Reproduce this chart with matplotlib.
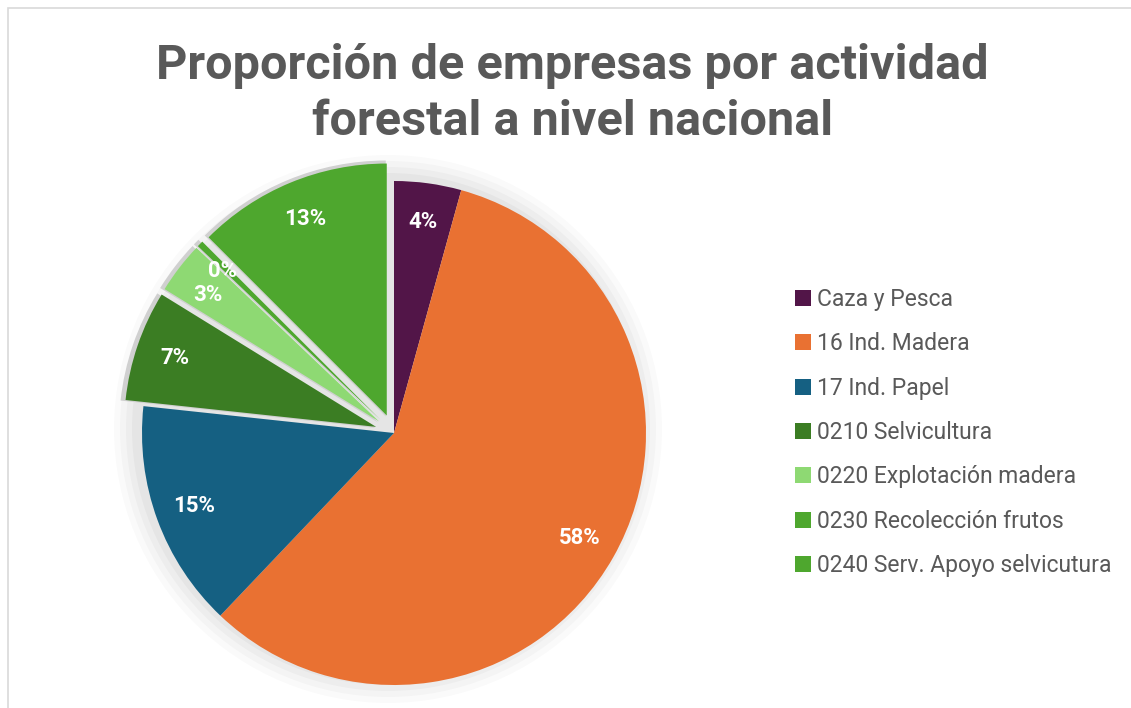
import numpy as np
import matplotlib.pyplot as plt
from matplotlib.patches import Rectangle, Circle

categorias = ["Caza y Pesca", "16 Ind. Madera", "17 Ind. Papel", "0210 Selvicultura",
              "0220 Explotación madera", "0230 Recolección frutos", "0240 Serv. Apoyo selvicutura"]
porcentajes = [4.3, 57.8, 14.6, 7.1, 3.3, 0.4, 12.5]
etiquetas = ["4%", "58%", "15%", "7%", "3%", "0%", "13%"]
colores = ["#521548", "#E97132", "#156082", "#3B7D23", "#8ED973", "#4EA72E", "#4EA72E"]
separacion = [0, 0, 0, 0.075, 0.075, 0.075, 0.075]

plt.rcParams["font.family"] = ["Roboto", "DejaVu Sans"]

fig = plt.figure(figsize=(11.31, 7.08), dpi=100)
ax = fig.add_axes([0, 0, 1, 1])
ax.axis("off")

# marco del grafico
fig.patches.append(Rectangle((8 / 1131, -0.01), 1.1, (700 / 708) + 0.01, transform=fig.transFigure,
                             fill=False, edgecolor="#d9d9d9", linewidth=1.2))

centro = (394, 275)
radio = 252
expl = [e * radio for e in separacion]

# sombra suave
for i, a in enumerate([0.018, 0.022, 0.026, 0.03]):
    ax.add_patch(Circle((centro[0] - 6, centro[1] + 4), radio + 22 - i * 6,
                        color="#000000", alpha=a, linewidth=0, zorder=0))
sombra = ["#d0d0d0" if e > 0 else "none" for e in separacion]
ax.pie(porcentajes, colors=sombra, explode=expl,
       startangle=90, counterclock=False, center=(centro[0] - 1, centro[1] - 1),
       radius=radio + 4, wedgeprops=dict(linewidth=0, zorder=1), frame=True)

cunas, _ = ax.pie(porcentajes, colors=colores, explode=expl, startangle=90,
                  counterclock=False, center=centro, radius=radio,
                  wedgeprops=dict(linewidth=0, zorder=2), frame=True)

acum = 0
for p, e, txt in zip(porcentajes, separacion, etiquetas):
    medio = np.deg2rad(90 - (acum + p / 2) * 3.6)
    d = radio * (0.845 + e)
    x = centro[0] + d * np.cos(medio)
    y = centro[1] + d * np.sin(medio)
    if txt == "0%":
        x -= 5
    if txt == "3%":
        y -= 4
        x -= 2
    ax.text(x, y, txt, color="white", fontsize=16, fontweight="bold",
            ha="center", va="center", zorder=5)
    acum += p

ax.set_xlim(0, 1131)
ax.set_ylim(0, 708)
ax.set_aspect("equal")

fig.text(0.506, 0.867, "Proporción de empresas por actividad\nforestal a nivel nacional",
         ha="center", va="center", fontsize=35, fontweight="bold", color="#595959",
         linespacing=1.27)

ley = ax.legend(cunas, categorias, loc="upper left", bbox_to_anchor=(795 / 1131, 1 - 288 / 708),
                bbox_transform=fig.transFigure, frameon=False, fontsize=16.5,
                labelcolor="#595959", handlelength=0.7, handleheight=0.7,
                handletextpad=0.25, labelspacing=0.93, borderpad=0, borderaxespad=0)

fig.savefig("out.png", dpi=100)
